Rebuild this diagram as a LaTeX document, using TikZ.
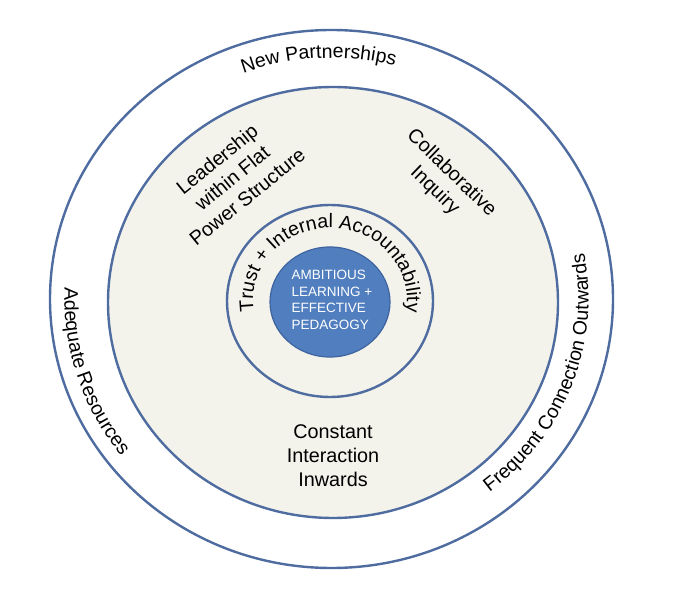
\documentclass[tikz,border=0pt]{standalone}
\usepackage{fontspec}
\setmainfont{Liberation Sans}
\usetikzlibrary{decorations.text,calc}
\definecolor{ringblue}{RGB}{78,108,160}
\definecolor{beige}{RGB}{243,242,235}
\definecolor{discblue}{RGB}{80,126,190}
\definecolor{discedge}{RGB}{62,100,160}
\begin{document}
\begin{tikzpicture}[x=1pt,y=1pt,
  lbl/.style={font=\fontsize{19.8}{24}\selectfont, align=center, text=black, inner sep=0pt},
  ring/.style={draw=ringblue, line width=2.4pt},
  arctext/.style={decorate, decoration={text along path, text align=center, text={|\fontsize{19.5}{22}\selectfont|#1}}}]
\useasboundingbox (0,0) rectangle (680,595);
\fill[white] (0,0) rectangle (680,595);
\coordinate (oc) at (331.5,296);
\coordinate (mc) at (333,292.5);
\coordinate (ic) at (330,294);
\coordinate (dc) at (330,293);
% rings
\draw[ring] (oc) ellipse [x radius=281.5pt, y radius=269pt];
\draw[ring, fill=beige] (mc) ellipse [x radius=225pt, y radius=215.5pt];
\draw[ring] (ic) ellipse [x radius=103pt, y radius=96pt];
\draw[draw=discedge, line width=1.2pt, fill=discblue] (dc) ellipse [x radius=60pt, y radius=55pt];
% curved labels
\path[arctext={New Partnerships}] ($(oc)+(133:252pt and 241pt)$) arc[start angle=133, end angle=53, x radius=252pt, y radius=241pt];
\path[arctext={Adequate Resources}] ($(oc)+(160:267pt and 255pt)$) arc[start angle=160, end angle=235, x radius=267pt, y radius=255pt];
\path[arctext={Frequent Connection Outwards}] ($(oc)+(-62:257pt and 245pt)$) arc[start angle=-62, end angle=21, x radius=257pt, y radius=245pt];
\path[arctext={Trust + Internal Accountability}] ($(ic)+(230:77pt and 73pt)$) arc[start angle=230, end angle=-50, x radius=77pt, y radius=73pt];
% straight labels
\node[lbl, rotate=39] (lead) at (232,417) {Leadership\\within Flat\\Power Structure};
\node[lbl, rotate=-44] (collab) at (443,413) {Collaborative\\Inquiry};
\node[lbl] (const) at (333,139) {Constant\\Interaction\\Inwards};
\node[text=white, align=left, inner sep=0pt, font=\fontsize{13.5}{16.5}\selectfont] (core) at (332,295) {AMBITIOUS\\LEARNING +\\EFFECTIVE\\PEDAGOGY};
\end{tikzpicture}
\end{document}
